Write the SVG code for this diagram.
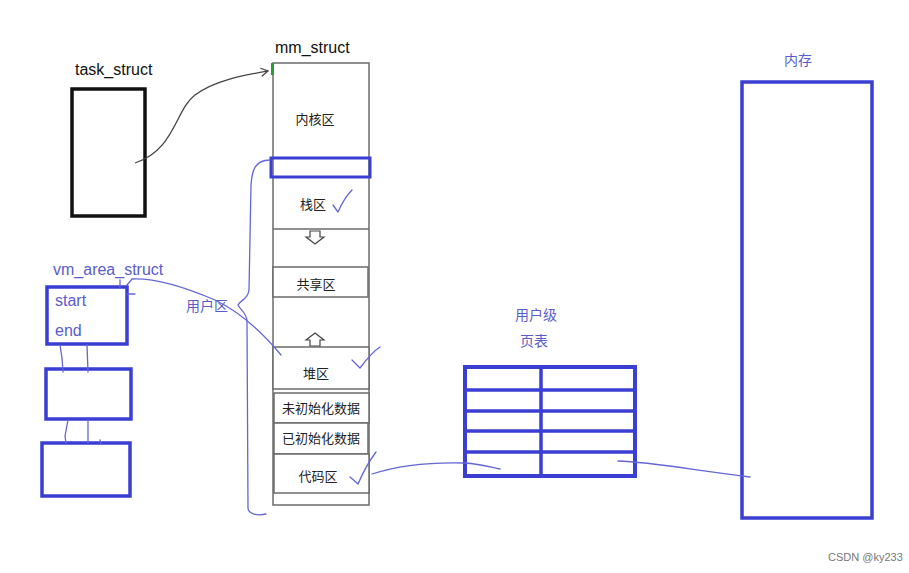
<svg xmlns="http://www.w3.org/2000/svg" width="909" height="573" viewBox="0 0 909 573">
<defs>
<style>
.lbl{font-family:"Liberation Sans","Noto Sans CJK SC",sans-serif;font-size:16px;fill:#111}
.cn{font-family:"Noto Sans CJK SC","Liberation Sans",sans-serif;font-size:13px;fill:#222;text-anchor:middle}
.bt{font-family:"Noto Sans CJK SC","Liberation Sans",sans-serif;font-size:14px;fill:#5a5ccc}
.bl{font-family:"Liberation Sans",sans-serif;font-size:16px;fill:#5a5ccc}
.seg{fill:#fff;stroke:#6b6b6b;stroke-width:1.5}
.blue{fill:none;stroke:#3a3ed2;stroke-width:3.5}
.pen{fill:none;stroke:#6466d6;stroke-width:1.3;stroke-linecap:round;stroke-linejoin:round}
.arr{fill:#fff;stroke:#444;stroke-width:1.2}
</style>
<marker id="ah" markerWidth="10" markerHeight="10" refX="8" refY="5" orient="auto" markerUnits="userSpaceOnUse">
<path d="M1,1 L8,5 L1,9" fill="none" stroke="#444" stroke-width="1.3"/>
</marker>
</defs>
<rect width="909" height="573" fill="#fff"/>

<g id="task_struct">
<text class="lbl" x="75" y="75">task_struct</text>
<rect x="72" y="89" width="73" height="127" fill="#fff" stroke="#111" stroke-width="3.5"/>
</g>

<g id="mm_struct">
<text class="lbl" x="275" y="53">mm_struct</text>
<rect class="seg" x="273" y="63" width="96" height="442"/>
<rect x="271" y="63" width="3" height="12" fill="#2a9d3a"/>
<text class="cn" x="315" y="124">内核区</text>
<rect x="271" y="158" width="99" height="19" fill="none" stroke="#3a3ed2" stroke-width="3"/>
<line class="seg" x1="273" y1="229" x2="369" y2="229"/>
<text class="cn" x="313" y="209">栈区</text>
<path class="arr" d="M310,231 h10 v6 h4 l-9,7 l-9,-7 h4 z"/>
<rect class="seg" x="273" y="267" width="95" height="30"/>
<text class="cn" x="316" y="289">共享区</text>
<path class="arr" d="M310,346 h10 v-6 h4 l-9,-7 l-9,7 h4 z"/>
<rect class="seg" x="273" y="347" width="96" height="42"/>
<text class="cn" x="316" y="378">堆区</text>
<rect class="seg" x="274" y="393" width="95" height="30"/>
<text class="cn" x="321" y="413">未初始化数据</text>
<rect class="seg" x="274" y="423" width="94" height="31"/>
<text class="cn" x="321" y="443">已初始化数据</text>
<rect class="seg" x="274" y="454" width="95" height="39"/>
<text class="cn" x="318" y="481">代码区</text>
</g>

<g id="vm_area_struct">
<text class="bl" x="53" y="275">vm_area_struct</text>
<rect class="blue" x="47" y="287" width="80" height="57"/>
<text class="bl" x="55" y="306">start</text>
<text class="bl" x="55" y="336">end</text>
<rect class="blue" x="46" y="369" width="85" height="50"/>
<rect class="blue" x="42" y="443" width="88" height="53"/>
</g>

<g id="user_label">
<text class="bt" x="186" y="311">用户区</text>
</g>

<g id="page_table">
<text class="bt" x="515" y="320">用户级</text>
<text class="bt" x="520" y="346">页表</text>
<rect x="465" y="367" width="170" height="109" fill="#fff" stroke="#3a3ed2" stroke-width="4"/>
<g stroke="#3a3ed2" stroke-width="3.5">
<line x1="465" y1="390" x2="635" y2="390"/>
<line x1="465" y1="411" x2="635" y2="411"/>
<line x1="465" y1="431" x2="635" y2="431"/>
<line x1="465" y1="452" x2="635" y2="452"/>
<line x1="541" y1="367" x2="541" y2="476"/>
</g>
</g>

<g id="memory">
<text class="bt" x="784" y="65">内存</text>
<rect x="742" y="82" width="130" height="436" fill="#fff" stroke="#3a3ed2" stroke-width="3.5"/>
</g>

<g id="connectors">
<path d="M135,163 C175,150 175,110 195,95 C215,80 245,75 268,71" fill="none" stroke="#444" stroke-width="1.3" marker-end="url(#ah)"/>
<path class="pen" d="M270,160 C255,160 252,170 251,185 L249,290 C248,300 240,300 238,305 C240,310 247,312 247,322 L248,508 C248,514 258,516 266,514"/>
<path class="pen" d="M127,285 L132,279 C150,278 175,283 215,300 C240,312 262,332 281,355"/>
<path class="pen" d="M333,205 L338,212 C342,203 347,195 352,190"/>
<path class="pen" d="M352,360 L360,368 C366,360 372,352 380,347"/>
<path class="pen" d="M350,477 L358,484 C364,470 370,460 376,452"/>
<path class="pen" d="M372,474 C400,465 430,462 465,463 C480,464 490,467 500,469"/>
<path class="pen" d="M618,461 C650,462 680,468 750,477"/>
<path class="pen" d="M60,345 L62,358 L63,372 M87,345 L88,372 M68,420 L65,436 L66,443 M88,420 L88,443 M100,440 L101,444"/>
<path class="pen" d="M120,280 L120,287 M127,294 L135,294"/>
</g>

<text x="828" y="561" style="font-family:'Liberation Sans',sans-serif;font-size:11px;fill:#777">CSDN @ky233</text>
</svg>
